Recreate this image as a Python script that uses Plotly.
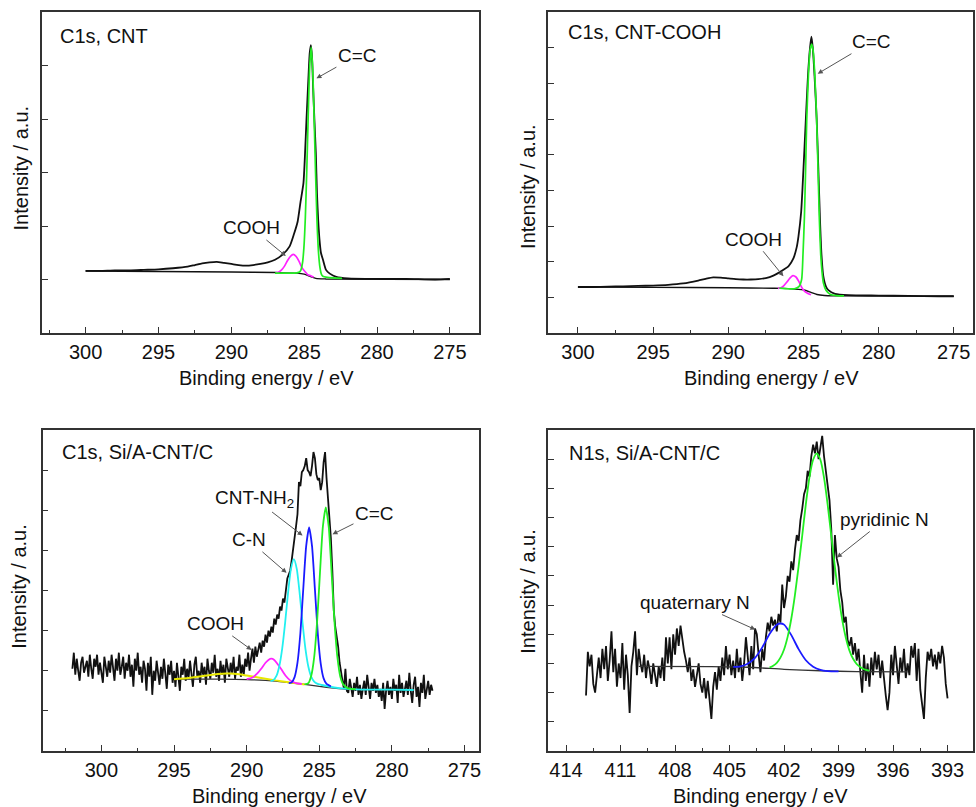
import plotly.graph_objects as go

FONT = "Liberation Sans, Arial, Helvetica, sans-serif"
W, H = 976, 807

# ---------------- Panel (a): C1s, CNT ----------------
a_x = [300.0, 299.0, 298.0, 297.0, 296.0, 295.0, 294.0, 293.0, 292.5, 292.0, 291.5, 291.0,
       290.5, 290.0, 289.5, 289.0, 288.5, 288.0, 287.5, 287.0, 286.5, 286.0, 285.7, 285.45,
       285.25, 285.05, 284.95, 284.84, 284.72, 284.62, 284.54, 284.46, 284.39, 284.3, 284.2,
       284.12, 284.04, 283.95, 283.85, 283.7, 283.5, 283.24, 282.8, 282.0, 280.0, 278.0, 276.0, 275.0]
a_total = [1.16, 1.16, 1.17, 1.17, 1.18, 1.19, 1.21, 1.24, 1.27, 1.30, 1.32, 1.33,
           1.31, 1.29, 1.27, 1.26, 1.27, 1.29, 1.32, 1.37, 1.46, 1.62, 1.85, 2.08,
           2.45, 2.80, 3.30, 4.00, 4.70, 5.23, 5.38, 5.15, 4.61, 4.00, 3.36,
           2.60, 2.12, 1.75, 1.50, 1.36, 1.18, 1.11, 1.05, 1.02, 1.01, 1.01, 1.00, 1.01]
a_bg_x = [300.0, 295.0, 290.0, 287.0, 285.5, 285.0, 284.6, 284.2, 283.5, 275.0]
a_bg = [1.16, 1.15, 1.14, 1.13, 1.12, 1.10, 1.06, 1.02, 1.01, 1.00]
a_cc_x = [287.0, 286.0, 285.5, 285.32, 285.22, 285.12, 285.02, 284.92, 284.82, 284.72, 284.62,
          284.52, 284.42, 284.32, 284.22, 284.12, 284.02, 283.92, 283.82, 283.72, 283.4, 283.0, 282.4]
a_cc = [1.12, 1.12, 1.125, 1.14, 1.18, 1.30, 1.59, 2.16, 3.05, 4.09, 4.98,
        5.34, 4.96, 4.05, 3.00, 2.10, 1.52, 1.23, 1.10, 1.06, 1.04, 1.03, 1.02]
a_cooh_x = [286.95, 286.75, 286.55, 286.35, 286.15, 285.95, 285.75, 285.55, 285.35, 285.15,
            284.95, 284.75, 284.55, 284.35]
a_cooh = [1.13, 1.14, 1.18, 1.25, 1.35, 1.43, 1.47, 1.43, 1.34, 1.22, 1.15, 1.09, 1.07, 1.04]

# ---------------- Panel (b): C1s, CNT-COOH ----------------
b_x = [300.0, 299.0, 298.0, 297.0, 296.0, 295.0, 294.0, 293.0, 292.0, 291.5, 291.0, 290.5,
       290.0, 289.5, 289.0, 288.5, 288.0, 287.5, 287.0, 286.6, 286.3, 286.0, 285.66, 285.45,
       285.33, 285.15, 285.0, 284.85, 284.7, 284.56, 284.47, 284.38, 284.26, 284.12, 284.0,
       283.9, 283.8, 283.68, 283.5, 283.34, 282.9, 282.0, 280.0, 278.0, 276.0, 275.0]
b_total = [1.29, 1.29, 1.30, 1.31, 1.32, 1.33, 1.35, 1.39, 1.47, 1.52, 1.56, 1.55,
           1.53, 1.51, 1.50, 1.50, 1.51, 1.54, 1.61, 1.70, 1.78, 1.87, 2.10, 2.40,
           2.71, 3.40, 4.58, 5.90, 7.20, 8.00, 8.31, 8.00, 7.20, 6.00, 4.50,
           3.20, 2.20, 1.60, 1.30, 1.20, 1.10, 1.06, 1.05, 1.04, 1.03, 1.03]
b_bg_x = [300.0, 295.0, 290.0, 287.0, 286.4, 285.6, 284.9, 284.5, 284.1, 283.6, 283.0, 275.0]
b_bg = [1.29, 1.28, 1.27, 1.255, 1.25, 1.23, 1.20, 1.14, 1.08, 1.05, 1.04, 1.03]
b_cc_x = [286.6, 286.0, 285.6, 285.3, 285.12, 285.03, 284.94, 284.86, 284.78, 284.66, 284.55,
          284.45, 284.35, 284.24, 284.12, 284.03, 283.94, 283.85, 283.76, 283.67, 283.5,
          283.2, 282.8, 282.3]
b_cc = [1.26, 1.24, 1.24, 1.30, 1.50, 2.20, 3.18, 4.50, 5.98, 7.30, 7.95,
        8.10, 7.90, 7.20, 5.98, 4.60, 3.18, 2.20, 1.70, 1.40, 1.20,
        1.08, 1.05, 1.04]
b_cooh_x = [286.7, 286.5, 286.3, 286.1, 285.9, 285.7, 285.5, 285.3, 285.1, 284.9, 284.7, 284.5]
b_cooh = [1.25, 1.27, 1.33, 1.43, 1.54, 1.61, 1.57, 1.44, 1.27, 1.16, 1.11, 1.07]

# ---------------- Panel (c): C1s, Si/A-CNT/C (0.1 eV steps from 302.0 eV) ----------------
c_start, c_step = 302.0, 0.1
c_counts = [
    2.05, 2.45, 1.9, 2.3, 2.0, 1.75, 2.2, 2.35, 1.95, 2.15,
    2.25, 1.85, 2.4, 2.05, 1.8, 2.3, 2.1, 2.4, 1.9, 2.2,
    2.0, 1.7, 2.35, 2.15, 1.85, 2.25, 1.95, 2.4, 2.05, 1.75,
    2.3, 2.0, 2.45, 1.9, 2.1, 2.35, 1.8, 2.2, 2.0, 2.4,
    1.85, 2.15, 1.6, 2.3, 2.0, 2.45, 1.9, 2.1, 1.7, 2.25,
    2.05, 1.5, 2.2, 1.85, 2.35, 1.4, 2.0, 1.75, 2.25, 1.95,
    1.65, 2.1, 1.8, 2.3, 1.95, 1.55, 2.15, 1.9, 2.25, 1.7,
    2.0, 1.6, 2.2, 1.85, 1.5, 2.1, 1.9, 2.3, 1.75, 2.05,
    1.8, 2.25, 1.95, 1.6, 2.15, 2.35, 1.85, 2.0, 1.7, 2.2,
    1.9, 2.1, 1.65, 2.3, 2.0, 1.8, 2.2, 1.95, 2.4, 1.85,
    2.05, 1.75, 2.25, 1.9, 2.15, 1.7, 2.3, 2.0, 1.85, 2.2,
    1.95, 2.35, 1.8, 2.1, 2.0, 2.4, 1.85, 2.15, 1.9, 2.3,
    2.1, 2.45, 2.0, 2.3, 2.55, 2.2, 2.6, 2.35, 2.5, 2.7,
    2.45, 2.75, 2.6, 2.9, 2.7, 3.0, 2.85, 3.1, 2.95, 3.3,
    3.15, 3.4, 3.3, 3.6, 3.5, 3.8, 3.7, 4.0, 4.3, 4.4,
    4.5, 4.75, 5.0, 5.3, 5.6, 5.9, 6.7, 6.6, 6.95, 7.0,
    7.1, 7.3, 7.0, 6.95, 6.85, 7.1, 7.45, 7.3, 6.9, 6.75,
    6.8, 6.5, 6.7, 7.2, 7.45, 6.8, 6.3, 5.9, 5.3, 4.5,
    3.5, 3.1, 2.85, 2.6, 2.2, 1.9, 1.75, 1.55, 2.05, 1.5,
    1.45, 1.8, 1.6, 1.35, 1.7, 1.5, 1.85, 1.4, 1.65, 1.3,
    1.55, 1.75, 1.4, 1.9, 1.6, 1.3, 1.7, 1.5, 1.8, 1.45,
    1.65, 1.35, 1.55, 1.25, 1.7, 1.05, 1.5, 1.75, 1.4, 1.6,
    1.3, 1.8, 1.5, 1.65, 1.2, 1.9, 1.45, 1.7, 1.35, 1.55,
    1.75, 1.4, 1.95, 1.5, 1.2, 1.65, 1.85, 1.35, 1.6, 1.1,
    1.7, 1.45, 1.9, 1.3, 1.6, 1.75, 1.4, 1.65, 1.5,
]
c_x = [round(c_start - c_step * i, 2) for i in range(len(c_counts))]
c_bg_x = [295.0, 292.0, 290.0, 288.0, 287.0, 286.0, 285.0, 284.0, 283.0, 281.0, 278.5]
c_bg = [1.79, 1.79, 1.78, 1.74, 1.70, 1.66, 1.61, 1.57, 1.54, 1.53, 1.52]
c_yel_x = [295.0, 294.0, 293.0, 292.0, 291.2, 290.5, 290.0, 289.0, 288.0, 287.0, 286.0]
c_yel = [1.79, 1.82, 1.87, 1.92, 1.93, 1.91, 1.88, 1.82, 1.76, 1.71, 1.66]
c_cooh_x = [290.0, 289.6, 289.3, 289.0, 288.7, 288.5, 288.3, 288.1, 287.9, 287.6, 287.3, 287.0, 286.6, 286.2]
c_cooh = [1.79, 1.83, 1.92, 2.05, 2.20, 2.27, 2.30, 2.27, 2.18, 2.03, 1.87, 1.76, 1.69, 1.67]
c_cn_x = [288.35, 288.15, 287.95, 287.75, 287.55, 287.35, 287.15, 286.95, 286.75, 286.55, 286.35,
          286.15, 285.95, 285.75, 285.55, 285.35, 285.15, 284.5, 283.5, 282.0, 280.0, 278.5]
c_cn = [1.74, 1.77, 1.87, 2.12, 2.56, 3.20, 3.94, 4.54, 4.78, 4.54, 3.93,
        3.19, 2.54, 2.10, 1.85, 1.73, 1.68, 1.62, 1.56, 1.53, 1.53, 1.52]
c_nh_x = [287.1, 286.9, 286.7, 286.5, 286.3, 286.1, 285.9, 285.7, 285.5, 285.3, 285.1, 284.9, 284.7, 284.5, 284.2]
c_nh = [1.69, 1.71, 1.84, 2.20, 2.94, 4.05, 5.11, 5.57, 5.11, 4.03, 2.92, 2.18, 1.81, 1.67, 1.61]
c_cc_x = [286.0, 285.75, 285.55, 285.35, 285.15, 284.95, 284.75, 284.55, 284.35, 284.15, 283.95,
          283.75, 283.55, 283.35, 283.0, 282.5]
c_cc = [1.66, 1.69, 1.88, 2.34, 3.22, 4.45, 5.60, 6.07, 5.59, 4.44, 3.21, 2.33, 1.85, 1.66, 1.56, 1.54]

# ---------------- Panel (d): N1s, Si/A-CNT/C (0.1 eV steps from 412.9 eV) ----------------
d_start, d_step = 412.9, 0.1
d_counts = [
    1.9, 3.4, 2.9, 3.3, 2.3, 2.0, 2.6, 3.2, 2.5, 3.5,
    2.8, 3.6, 2.4, 3.1, 4.1, 2.7, 3.5, 2.2, 3.0, 2.5,
    3.7, 2.1, 3.3, 2.6, 1.3, 2.9, 3.4, 4.1, 2.6, 3.5,
    3.0, 2.7, 3.3, 2.5, 3.1, 2.8, 2.3, 3.0, 2.6, 2.2,
    2.9, 2.5, 3.2, 2.4, 3.9, 3.0, 3.9, 2.8, 4.0, 3.3,
    4.2, 3.6, 4.3, 3.8, 3.4, 3.1, 2.7, 3.2, 2.4, 2.8,
    2.2, 2.6, 3.0, 2.3, 2.0, 2.5, 1.8, 2.4, 1.6, 1.1,
    2.2, 2.7, 2.1, 2.9, 2.4, 3.2, 2.6, 3.6, 2.8, 3.3,
    2.6, 3.1, 2.5, 3.5, 2.7, 3.2, 2.4, 3.0, 3.9, 3.1,
    2.6, 3.6, 2.8, 4.2, 4.0, 3.3, 2.7, 3.5, 3.1, 3.9,
    4.4, 4.1, 4.6, 4.3, 4.5, 4.1, 4.7, 4.4, 5.7, 4.9,
    5.3, 6.0, 5.8, 6.5, 6.2, 6.9, 7.4, 7.2, 7.9, 8.3,
    8.8, 9.0, 9.6, 9.4, 10.1, 10.5, 10.2, 10.6, 10.0, 10.4,
    10.8, 10.1, 9.6, 9.1, 8.6, 7.6, 5.7, 7.4, 6.6, 6.3,
    5.5, 5.1, 4.4, 4.6, 3.8, 3.6, 3.9, 3.3, 3.7, 3.1,
    3.5, 2.7, 2.0, 3.3, 2.4, 3.0, 2.2, 3.2, 2.6, 3.4,
    2.8, 3.3, 2.5, 3.1, 2.4, 1.9, 1.4, 2.0, 3.3, 2.6,
    3.6, 2.9, 2.3, 3.2, 2.7, 3.5, 2.5, 3.0, 2.6, 3.6,
    3.2, 3.7, 2.4, 3.5, 2.1, 1.6, 1.1, 2.5, 3.4, 3.1,
    3.5, 2.9, 3.3, 2.8, 3.4, 3.0, 3.6, 3.2, 2.3, 1.8,
]
d_x = [round(d_start - d_step * i, 2) for i in range(len(d_counts))]
d_bg_x = [410.0, 406.0, 404.0, 402.0, 400.0, 398.0, 395.2]
d_bg = [2.90, 2.89, 2.87, 2.80, 2.75, 2.72, 2.71]
d_quat_x = [404.8, 404.4, 404.0, 403.6, 403.2, 402.8, 402.4, 402.2, 402.0, 401.6, 401.2, 400.8,
            400.4, 400.0, 399.6, 399.0]
d_quat = [2.88, 2.90, 2.99, 3.19, 3.55, 4.01, 4.33, 4.37, 4.33, 3.97, 3.49, 3.11, 2.89, 2.78, 2.74, 2.73]
d_pyr_x = [402.8, 402.6, 402.4, 402.2, 402.0, 401.8, 401.6, 401.4, 401.2, 401.0, 400.8, 400.6,
           400.4, 400.2, 400.0, 399.8, 399.6, 399.4, 399.2, 399.0, 398.8, 398.6, 398.4, 398.2,
           398.0, 397.6, 397.3]
d_pyr = [2.86, 2.92, 3.02, 3.20, 3.48, 3.92, 4.54, 5.35, 6.33, 7.38, 8.46, 9.39,
         9.98, 10.20, 9.98, 9.37, 8.44, 7.37, 6.30, 5.32, 4.50, 3.88, 3.44, 3.16,
         2.98, 2.80, 2.75]

# tick labels
ticks_c = [300, 295, 290, 285, 280, 275]
minor_c = [302.5, 297.5, 292.5, 287.5, 282.5, 277.5]
ticks_n = [414, 411, 408, 405, 402, 399, 396, 393]
minor_n = [412.5, 409.5, 406.5, 403.5, 400.5, 397.5, 394.5]

panel_titles = ["C1s, CNT", "C1s, CNT-COOH", "C1s, Si/A-CNT/C", "N1s, Si/A-CNT/C"]

# ---------------- figure ----------------
BLACK = "#111111"
GREEN = "#22ee22"
MAGENTA = "#ff22ff"
CYAN = "#22f0f0"
BLUE = "#1a1aff"
YELLOW = "#e8e800"

fig = go.Figure()


def add(x, y, color, ax, width=1.7, shape="spline"):
    fig.add_trace(go.Scatter(
        x=x, y=y, mode="lines", xaxis="x" + ax, yaxis="y" + ax,
        line=dict(color=color, width=width, shape=shape,
                  smoothing=0.6 if shape == "spline" else None),
        showlegend=False, hoverinfo="skip"))


# panel a
add(a_x, a_total, BLACK, "", 1.8)
add(a_bg_x, a_bg, BLACK, "", 1.4)
add(a_cooh_x, a_cooh, MAGENTA, "")
add(a_cc_x, a_cc, GREEN, "")
# panel b
add(b_x, b_total, BLACK, "2", 1.8)
add(b_bg_x, b_bg, BLACK, "2", 1.4)
add(b_cooh_x, b_cooh, MAGENTA, "2")
add(b_cc_x, b_cc, GREEN, "2")
# panel c
add(c_x, c_counts, BLACK, "3", 1.8, "linear")
add(c_bg_x, c_bg, "#333333", "3", 1.3)
add(c_yel_x, c_yel, YELLOW, "3", 2.0)
add(c_cooh_x, c_cooh, MAGENTA, "3", 1.8)
add(c_cn_x, c_cn, CYAN, "3", 1.8)
add(c_nh_x, c_nh, BLUE, "3", 1.8)
add(c_cc_x, c_cc, GREEN, "3", 1.8)
# panel d
add(d_x, d_counts, BLACK, "4", 1.8, "linear")
add(d_bg_x, d_bg, "#333333", "4", 1.3)
add(d_quat_x, d_quat, BLUE, "4", 1.8)
add(d_pyr_x, d_pyr, GREEN, "4", 1.8)

AX = "#333333"


def xaxis(domain, rng, anchor, tv, mv):
    return dict(domain=domain, range=rng, anchor=anchor, tickmode="array", tickvals=tv,
                ticks="inside", ticklen=6, tickwidth=1.2, tickcolor=AX,
                showline=True, linecolor=AX, linewidth=1.5, mirror=True,
                showgrid=False, zeroline=False,
                tickfont=dict(family=FONT, size=20, color=BLACK),
                minor=dict(tickmode="array", tickvals=mv, ticks="inside", ticklen=3,
                           tickcolor=AX, tickwidth=1.2, showgrid=False))


def yaxis(domain, rng, anchor, tv):
    return dict(domain=domain, range=rng, anchor=anchor, tickmode="array", tickvals=tv,
                ticks="inside", ticklen=6, tickwidth=1.2, tickcolor=AX,
                showticklabels=False, showline=True, linecolor=AX, linewidth=1.5,
                mirror=True, showgrid=False, zeroline=False)


def px(v):
    return v / W


def py(v):
    return 1 - v / H


xl = [px(42), px(480)]
xr = [px(549), px(975)]
yt = [py(333), py(12)]
yb = [py(751), py(430)]

fig.update_layout(
    width=W, height=H, margin=dict(l=0, r=0, t=0, b=0),
    paper_bgcolor="white", plot_bgcolor="white",
    font=dict(family=FONT, color=BLACK),
    xaxis=xaxis(xl, [303.0, 273.0], "y", ticks_c, minor_c),
    yaxis=yaxis(yt, [0, 6], "x", [1, 2, 3, 4, 5]),
    xaxis2=xaxis(xr, [302.0, 273.72], "y2", ticks_c, minor_c),
    yaxis2=yaxis(yt, [0, 9], "x2", [1, 2, 3, 4, 5, 6, 7, 8]),
    xaxis3=xaxis([px(42.7), px(480)], [304.05, 274.0], "y3", ticks_c, minor_c),
    yaxis3=yaxis(yb, [0, 8], "x3", [1, 2, 3, 4, 5, 6, 7]),
    xaxis4=xaxis(xr, [415.0, 391.6], "y4", ticks_n, minor_n),
    yaxis4=yaxis(yb, [0, 11], "x4", [1, 2, 3, 4, 5, 6, 7, 8, 9, 10]),
)

ann = []
# panel titles (left-anchored)
for txt, (lx, ly) in zip(panel_titles, [(58, 35.7), (566.7, 32.3), (60, 451.7), (568.3, 453.3)]):
    ann.append(dict(text=txt, x=px(lx), y=py(ly), xref="paper", yref="paper",
                    xanchor="left", yanchor="middle", showarrow=False,
                    font=dict(family=FONT, size=20, color=BLACK)))
# axis titles
for cx, cy in [(267, 378), (773, 378), (280.5, 796), (762.5, 796)]:
    ann.append(dict(text="Binding energy / eV", x=px(cx), y=py(cy), xref="paper", yref="paper",
                    xanchor="center", yanchor="middle", showarrow=False,
                    font=dict(family=FONT, size=20, color=BLACK)))
for cx, cy in [(21, 167.5), (529, 186), (19, 585.8), (529, 590.8)]:
    ann.append(dict(text="Intensity / a.u.", x=px(cx), y=py(cy), xref="paper", yref="paper",
                    xanchor="center", yanchor="middle", showarrow=False, textangle=-90,
                    font=dict(family=FONT, size=20, color=BLACK)))
# peak labels with arrows: (text, axis suffix, tip x, tip y, text offset x, offset y)
peak_labels = [
    ("C=C", "", 284.16, 4.76, 41, -23),
    ("COOH", "", 286.26, 1.44, -34, -28),
    ("C=C", "2", 284.05, 7.27, 54, -32),
    ("COOH", "2", 286.33, 1.59, -30, -37),
    ("CNT-NH<sub>2</sub>", "3", 286.15, 5.37, -48, -37),
    ("C=C", "3", 284.09, 5.40, 42, -21),
    ("C-N", "3", 287.25, 4.44, -38, -33),
    ("COOH", "3", 289.66, 2.52, -36, -26),
    ("pyridinic N", "4", 399.09, 6.63, 48, -38),
    ("quaternary N", "4", 403.58, 4.16, -60, -27),
]
for txt, s, x, y, dx, dy in peak_labels:
    ann.append(dict(text=txt, x=x, y=y, xref="x" + s, yref="y" + s, ax=dx, ay=dy,
                    showarrow=True, arrowhead=2, arrowsize=1, arrowwidth=1,
                    arrowcolor="#555555", standoff=0,
                    font=dict(family=FONT, size=19, color=BLACK)))
fig.update_layout(annotations=ann)

fig.write_html("out.html")
